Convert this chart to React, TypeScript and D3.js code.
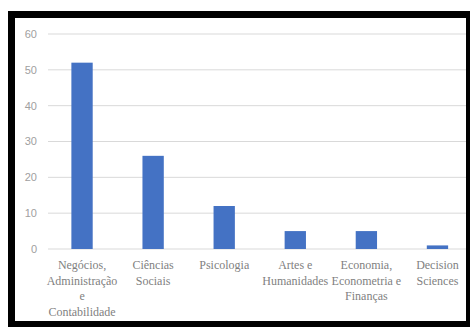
import React from "react";
import * as d3 from "d3";

const categories = [
  "Negócios,\nAdministração\ne\nContabilidade",
  "Ciências\nSociais",
  "Psicologia",
  "Artes e\nHumanidades",
  "Economia,\nEconometria e\nFinanças",
  "Decision\nSciences",
];
const values = [52, 26, 12, 5, 5, 1];
const yTicks = [0, 10, 20, 30, 40, 50, 60];

export default function App() {
  const W = 470;
  const H = 329;
  const x = d3
    .scaleBand<string>()
    .domain(categories)
    .range([46.5, 473])
    .paddingInner(0.7)
    .paddingOuter(0.35);
  const y = d3.scaleLinear().domain([0, 60]).range([249, 34]);
  const gridX0 = 48;
  const gridX1 = 466;

  return (
    <svg
      width={W}
      height={H}
      style={{ position: "absolute", left: 0, top: 0, background: "#fff" }}
    >
      <rect x={8} y={11} width={462} height={316} fill="#000" />
      <rect x={15} y={18} width={451} height={303} fill="#fff" />
      {yTicks.map((t) => (
        <g key={t}>
          <line
            x1={gridX0}
            x2={gridX1}
            y1={y(t)}
            y2={y(t)}
            stroke="#d9d9d9"
            strokeWidth={1}
          />
          <text
            x={37}
            y={y(t)}
            dy="0.35em"
            textAnchor="end"
            fontFamily="'Liberation Sans', Arial, sans-serif"
            fontSize={11}
            fill="#a0a0a0"
          >
            {t}
          </text>
        </g>
      ))}
      {categories.map((c, i) => (
        <rect
          key={c}
          x={x(c)}
          y={y(values[i])}
          width={x.bandwidth()}
          height={y(0) - y(values[i])}
          fill="#4472c4"
        />
      ))}
      {categories.map((c) => {
        const cx = (x(c) as number) + x.bandwidth() / 2;
        return (
          <text
            key={c}
            textAnchor="middle"
            fontFamily="'Liberation Serif', 'Times New Roman', serif"
            fontSize={12}
            fill="#7f7f7f"
          >
            {c.split("\n").map((line, j) => (
              <tspan key={j} x={cx} y={269 + j * 15.5}>
                {line}
              </tspan>
            ))}
          </text>
        );
      })}
    </svg>
  );
}
